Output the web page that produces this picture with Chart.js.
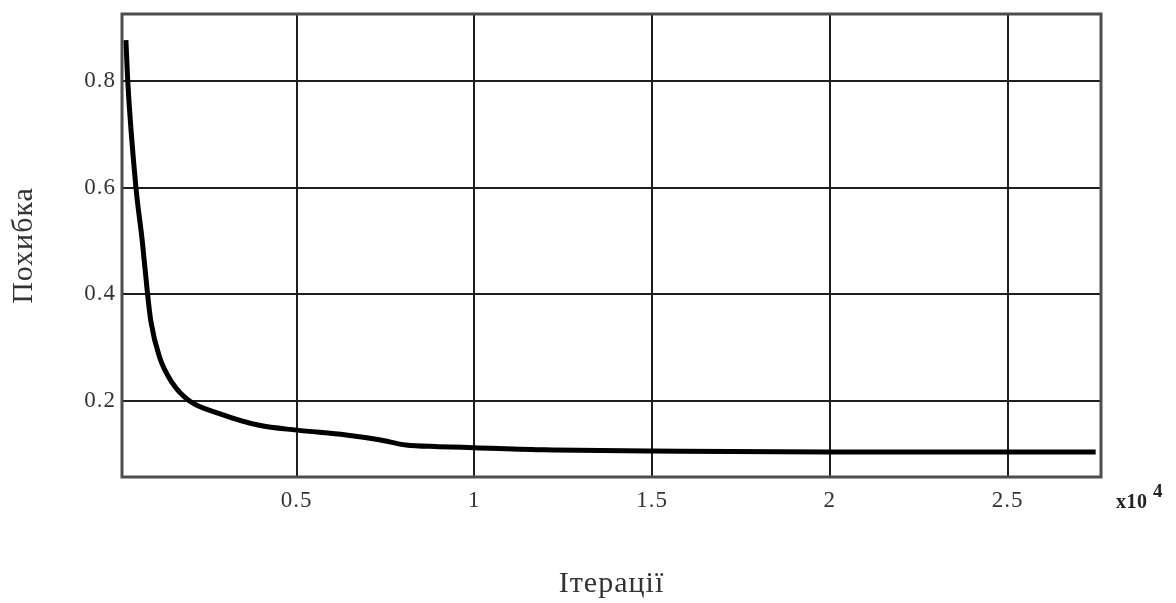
<!DOCTYPE html>
<html>
<head>
<meta charset="utf-8">
<script src="https://cdn.jsdelivr.net/npm/chart.js@4.4.1/dist/chart.umd.min.js"></script>
<style>
  html, body { margin: 0; padding: 0; background: #fff; }
  #wrap { width: 1176px; height: 603px; }
</style>
</head>
<body>
<div id="wrap"><canvas id="errChart"></canvas></div>
<script>
/* ── Data (iterations in units of 10^4) ──────────────────────── */
const iterations = [0.02, 0.025, 0.048, 0.066, 0.081, 0.09, 0.114, 0.151, 0.198, 0.283,
                    0.395, 0.5, 0.639, 0.733, 0.808, 0.9, 1.0, 1.2, 1.5, 2.0, 2.5, 2.748];
const errors     = [0.877, 0.802, 0.602, 0.5, 0.4, 0.35, 0.283, 0.233, 0.2, 0.176,
                    0.154, 0.145, 0.136, 0.127, 0.117, 0.114, 0.112, 0.108, 0.106, 0.104, 0.104, 0.104];
const xTicks = [0.5, 1, 1.5, 2, 2.5];
const yTicks = [0.2, 0.4, 0.6, 0.8];

const SERIF = '"Liberation Serif", "DejaVu Serif", serif';

/* ── Slightly wide letter spacing, like the original GDI text ── */
const spacingPlugin = {
  id: 'spacing',
  beforeInit(chart) { chart.ctx.letterSpacing = '1px'; },
  beforeDraw(chart) { chart.ctx.letterSpacing = '1px'; },
};

/* ── Frame + exponent label ──────────────────────────────────── */
const framePlugin = {
  id: 'frame',
  afterDraw(chart) {
    const { ctx, chartArea: a } = chart;
    ctx.save();
    ctx.strokeStyle = '#4d4d4d';
    ctx.lineWidth = 3;
    ctx.strokeRect(a.left, a.top, a.right - a.left, a.bottom - a.top);

    ctx.fillStyle = '#222';
    ctx.textBaseline = 'alphabetic';
    ctx.letterSpacing = '0.5px';
    ctx.font = 'bold 20px ' + SERIF;
    ctx.fillText('x10', a.right + 15, a.bottom + 31);
    ctx.font = 'bold 19px ' + SERIF;
    ctx.fillText('4', a.right + 52, a.bottom + 20);
    ctx.restore();
  },
};

const data = iterations.map((x, i) => ({ x, y: errors[i] }));

new Chart(document.getElementById('errChart'), {
  type: 'line',
  data: {
    datasets: [{
      data,
      borderColor: '#000',
      borderWidth: 5,
      pointRadius: 0,
      cubicInterpolationMode: 'monotone',
      fill: false,
    }],
  },
  options: {
    responsive: true,
    maintainAspectRatio: false,
    animation: false,
    layout: { padding: { top: 14, right: 75, left: 0, bottom: 0 } },
    plugins: { legend: { display: false }, tooltip: { enabled: false } },
    scales: {
      x: {
        type: 'linear',
        min: 0.009,
        max: 2.763,
        afterBuildTicks: s => { s.ticks = xTicks.map(v => ({ value: v })); },
        afterFit: s => { s.height = 126; },
        grid: { color: '#1e1e1e', lineWidth: 2, drawTicks: false },
        border: { display: false },
        ticks: {
          color: '#333', padding: 10, maxRotation: 0,
          font: { family: SERIF, size: 23 },
          callback: v => String(v),
        },
        title: {
          display: true, text: 'Ітерації', color: '#333',
          font: { family: SERIF, size: 30 }, padding: { top: 4, bottom: 1 },
        },
      },
      y: {
        min: 0.057,
        max: 0.926,
        afterBuildTicks: s => { s.ticks = yTicks.map(v => ({ value: v })); },
        afterFit: s => { s.width = 122; s.paddingTop = 0; s.paddingBottom = 0; },
        grid: { color: '#1e1e1e', lineWidth: 2, drawTicks: false },
        border: { display: false },
        ticks: {
          color: '#333', padding: 6,
          font: { family: SERIF, size: 23 },
          callback: v => String(v),
        },
        title: {
          display: true, text: 'Похибка', color: '#333',
          font: { family: SERIF, size: 30 }, padding: { top: 6, bottom: 0 },
        },
      },
    },
  },
  plugins: [spacingPlugin, framePlugin],
});
</script>
</body>
</html>
